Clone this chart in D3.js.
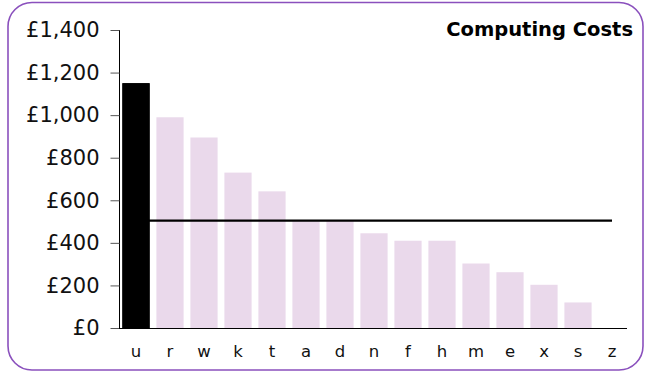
<!DOCTYPE html>
<html>
<head>
<meta charset="utf-8">
<script src="https://cdn.jsdelivr.net/npm/d3@7/dist/d3.min.js"></script>
<style>
  html, body { margin: 0; padding: 0; background: #fff; }
  svg { display: block; }
</style>
</head>
<body>
<svg id="chart" width="650" height="372"></svg>
<script>
const categories = ["u","r","w","k","t","a","d","n","f","h","m","e","x","s","z"];
const costs = [1150, 990, 895, 730, 642, 503, 503, 445, 410, 410, 303, 262, 203, 120, 0];
const highlighted = ["u"];
const yTicks = [0, 200, 400, 600, 800, 1000, 1200, 1400];
const title = "Computing Costs";

const svg = d3.select("#chart");

// frame
svg.append("rect")
  .attr("x", 8).attr("y", 2.5)
  .attr("width", 635).attr("height", 367.5)
  .attr("rx", 24).attr("ry", 24)
  .attr("fill", "#fff")
  .attr("stroke", "#8a50bd")
  .attr("stroke-width", 1.6);

const x = d3.scaleBand().domain(categories).range([119, 629]).paddingInner(0.2).paddingOuter(0.1);
const y = d3.scaleLinear().domain([0, 1400]).range([328, 30]);

const data = categories.map((c, i) => ({ c, v: costs[i] }));

// bars
svg.append("g").selectAll("rect").data(data).join("rect")
  .attr("x", d => x(d.c))
  .attr("y", d => y(d.v))
  .attr("width", x.bandwidth())
  .attr("height", d => y(0) - y(d.v))
  .attr("fill", d => highlighted.includes(d.c) ? "#000" : "#ead9eb");

// average line
const avg = d3.mean(costs);
svg.append("line")
  .attr("x1", x(categories[0]) + x.bandwidth() / 2)
  .attr("x2", x(categories[categories.length - 1]) + x.bandwidth() / 2)
  .attr("y1", y(avg)).attr("y2", y(avg))
  .attr("stroke", "#000").attr("stroke-width", 2.2);

// redraw highlighted bar on top
svg.append("g").selectAll("rect").data(data.filter(d => highlighted.includes(d.c))).join("rect")
  .attr("x", d => x(d.c))
  .attr("y", d => y(d.v))
  .attr("width", x.bandwidth())
  .attr("height", d => y(0) - y(d.v))
  .attr("fill", "#000");

// y axis
const yAxis = d3.axisLeft(y).tickValues(yTicks).tickSize(9).tickPadding(11)
  .tickFormat(d => "£" + d3.format(",")(d));
const gy = svg.append("g").attr("transform", "translate(119.5,0)").call(yAxis);
gy.select(".domain").attr("stroke", "#000").attr("d", `M0,${y(1400)}V${y(0)}`);
gy.selectAll(".tick line").attr("stroke", "#555");
gy.selectAll("text")
  .attr("font-family", "DejaVu Sans, Verdana, sans-serif")
  .attr("font-size", 21)
  .attr("fill", "#111");

// x axis
const xAxis = d3.axisBottom(x).tickSize(0).tickPadding(17);
const gx = svg.append("g").attr("transform", `translate(0,${y(0) + 0.5})`).call(xAxis);
gx.select(".domain").attr("stroke", "#000").attr("d", "M119,0H627");
gx.selectAll("text")
  .attr("font-family", "DejaVu Sans, Verdana, sans-serif")
  .attr("font-size", 16.5)
  .attr("fill", "#111");

// title
svg.append("text")
  .attr("x", 633).attr("y", 36)
  .attr("text-anchor", "end")
  .attr("font-family", "DejaVu Sans, Verdana, sans-serif")
  .attr("font-weight", "bold")
  .attr("font-size", 19.5)
  .attr("fill", "#000")
  .text(title);
</script>
</body>
</html>
